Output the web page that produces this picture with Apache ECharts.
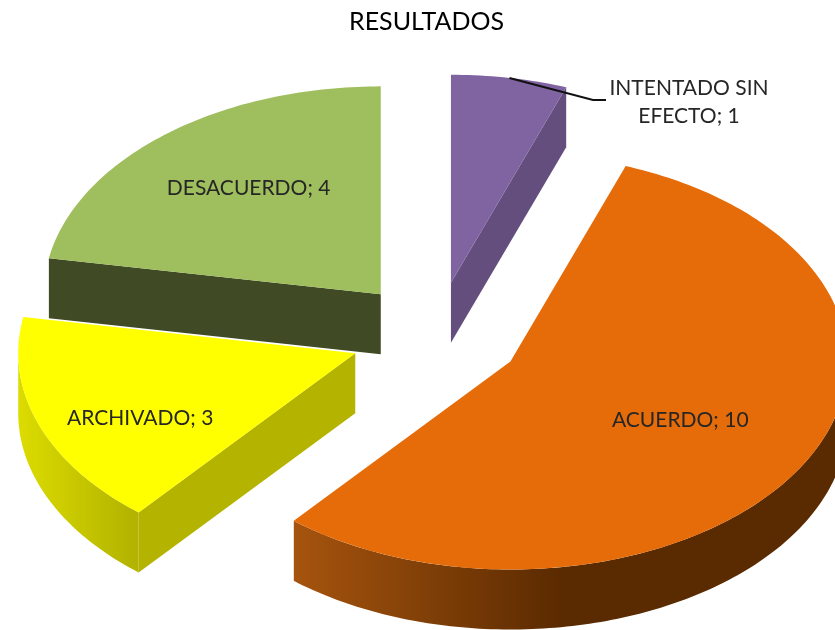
<!DOCTYPE html>
<html>
<head>
<meta charset="utf-8">
<style>
  html, body { margin: 0; padding: 0; background: #fff; }
  #chart { width: 835px; height: 630px; }
</style>
</head>
<body>
<div id="chart"></div>
<script src="https://cdn.jsdelivr.net/npm/echarts@6/dist/echarts.min.js"></script>
<script>
const categories = ['INTENTADO SIN EFECTO', 'ACUERDO', 'ARCHIVADO', 'DESACUERDO']
const values = [1, 10, 3, 4]

// pie geometry: tilted ellipse, exploded slices, extruded downwards
const center = [436, 335]
const rx = 337
const ry = 208
const explode = 0.255
const depth = 60
const fontFamily = 'Lato, Carlito, sans-serif'

const sliceStyles = [
  { top: '#8064a2', face: '#634e7d', wall: ['#634e7d', '#634e7d'], fade: 100, labelAt: 0, labelDy: 0 },
  { top: '#e66c0a', face: '#5a2a00', wall: ['#a6540e', '#5a2a00'], fade: 270, labelAt: 0.582, labelDy: -2 },
  { top: '#ffff00', face: '#b3b300', wall: ['#dcdc00', '#b3b300'], fade: 116, labelAt: 0.679, labelDy: 17 },
  { top: '#9fbe5d', face: '#404a25', wall: ['#404a25', '#404a25'], fade: 100, labelAt: 0.61, labelDy: -9 }
]

const total = values.reduce((a, b) => a + b, 0)
const rad = (deg) => (deg * Math.PI) / 180

function rim(apex, deg, drop = 0) {
  return [apex[0] + rx * Math.sin(rad(deg)), apex[1] - ry * Math.cos(rad(deg)) + drop]
}

function arc(apex, from, to, drop = 0) {
  const pts = []
  const steps = Math.max(2, Math.ceil(Math.abs(to - from)))
  for (let i = 0; i <= steps; i++) {
    pts.push(rim(apex, from + ((to - from) * i) / steps, drop))
  }
  return pts
}

function renderSlice(params, api) {
  const idx = params.dataIndex
  const val = api.value(0)
  const style = sliceStyles[idx]
  const before = values.slice(0, idx).reduce((a, b) => a + b, 0)
  const start = (before / total) * 360
  const end = ((before + val) / total) * 360
  const mid = (start + end) / 2

  const apex = [
    center[0] + explode * rx * Math.sin(rad(mid)),
    center[1] - explode * ry * Math.cos(rad(mid))
  ]
  const children = []
  const z2 = Math.round(apex[1])
  const addPoly = (points, fill, z) => {
    children.push({
      type: 'polygon',
      z2: z,
      shape: { points },
      style: { fill, stroke: null }
    })
  }
  const addFace = (deg) => {
    const p = rim(apex, deg)
    addPoly([apex, p, [p[0], p[1] + depth], [apex[0], apex[1] + depth]], style.face, z2)
  }

  // cut faces, only the ones turned towards the viewer
  if (Math.sin(rad(start)) < -1e-6) addFace(start)
  if (Math.sin(rad(end)) > 1e-6) addFace(end)

  // outer wall, the part of the rim on the front half
  const wallFrom = Math.max(start, 90)
  const wallTo = Math.min(end, 270)
  if (wallTo > wallFrom) {
    const lower = arc(apex, wallFrom, wallTo, depth)
    const upper = arc(apex, wallTo, wallFrom)
    const left = Math.min(...upper.map((p) => p[0]))
    addPoly(
      lower.concat(upper),
      new echarts.graphic.LinearGradient(
        left, 0, left + style.fade, 0,
        [
          { offset: 0, color: style.wall[0] },
          { offset: 1, color: style.wall[1] }
        ],
        true
      ),
      z2 + 1
    )
  }

  addPoly([apex].concat(arc(apex, start, end)), style.top, z2 + 2)

  // labels
  if (style.labelAt > 0) {
    children.push({
      type: 'text',
      z2: 1000,
      style: {
        x: apex[0] + style.labelAt * rx * Math.sin(rad(mid)),
        y: apex[1] - style.labelAt * ry * Math.cos(rad(mid)) + style.labelDy,
        text: categories[idx] + '; ' + val,
        fill: '#262626',
        font: '21px ' + fontFamily,
        align: 'center',
        verticalAlign: 'middle'
      }
    })
  } else {
    children.push({
      type: 'polyline',
      z2: 1000,
      shape: { points: [rim(apex, mid), [593, 100], [606, 100]] },
      style: { stroke: '#111', lineWidth: 2, fill: null }
    })
    children.push({
      type: 'text',
      z2: 1000,
      style: {
        x: 689,
        y: 102,
        text: 'INTENTADO SIN\nEFECTO; ' + val,
        fill: '#262626',
        font: '21px ' + fontFamily,
        lineHeight: 28,
        align: 'center',
        verticalAlign: 'middle'
      }
    })
  }

  return { type: 'group', children }
}

const chart = echarts.init(document.getElementById('chart'))
chart.setOption({
  animation: false,
  backgroundColor: '#fff',
  title: {
    text: 'RESULTADOS',
    left: 344,
    top: 4,
    textStyle: { color: '#000', fontFamily, fontSize: 25, fontWeight: 'normal' }
  },
  series: [
    {
      type: 'custom',
      coordinateSystem: 'none',
      silent: true,
      renderItem: renderSlice,
      data: values.map((v, i) => ({ name: categories[i], value: [v] }))
    }
  ]
})
</script>
</body>
</html>
